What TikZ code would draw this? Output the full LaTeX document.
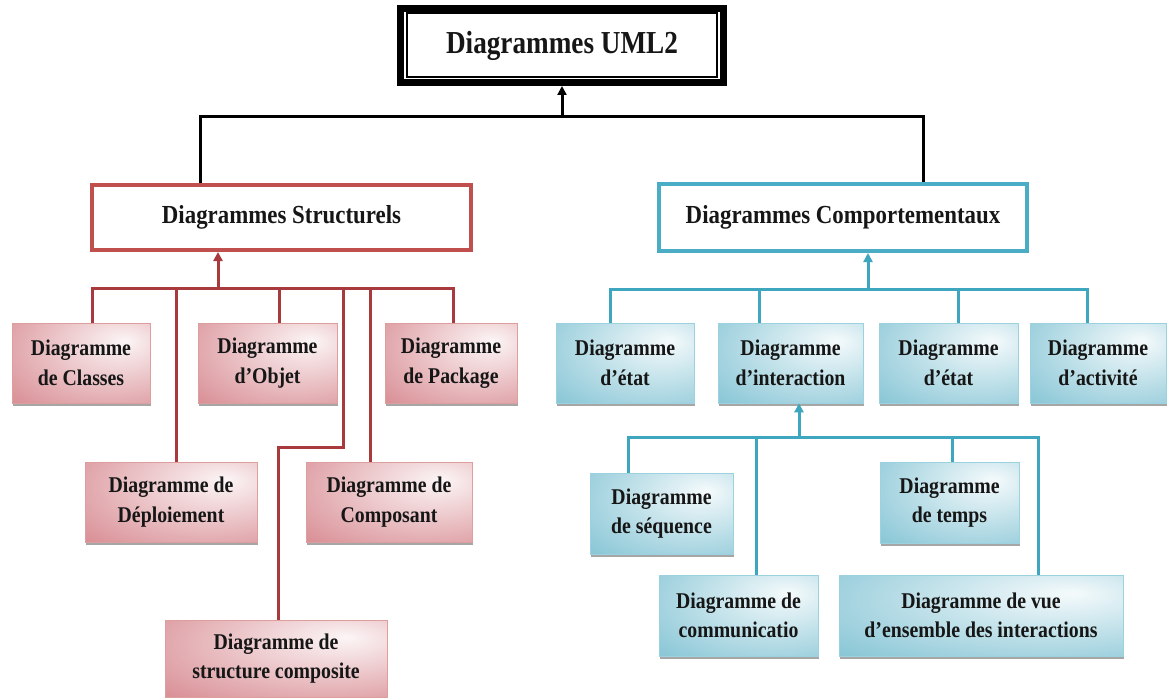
\documentclass[tikz,border=0pt]{standalone}
\usepackage{fontspec}
\setmainfont{Liberation Serif}
\newfontfamily\narrowserif{Liberation Serif}[FakeStretch=0.88]
\usepackage{graphicx}
\usetikzlibrary{arrows.meta,shadows}

% palette
\definecolor{crimsonline}{HTML}{A8393D}
\definecolor{crimsonframe}{HTML}{C0504D}
\definecolor{rosefill}{HTML}{D6878E}
\definecolor{aqualine}{HTML}{3FA6C0}
\definecolor{aquaframe}{HTML}{4BACC6}
\definecolor{aquafill}{HTML}{80C2D3}
\definecolor{inktext}{HTML}{161616}

% soft glow towards the upper right of each leaf box
\pgfdeclareradialshading{roseglow}{\pgfpoint{16bp}{14bp}}{%
  color(0bp)=(white!92!rosefill); color(12bp)=(white!70!rosefill);
  color(50bp)=(rosefill); color(100bp)=(rosefill)}
\pgfdeclareradialshading{aquaglow}{\pgfpoint{16bp}{14bp}}{%
  color(0bp)=(white!92!aquafill); color(12bp)=(white!70!aquafill);
  color(50bp)=(aquafill); color(100bp)=(aquafill)}

\tikzset{
  blackwire/.style={line width=3pt, draw=black},
  crimsonwire/.style={line width=3pt, draw=crimsonline},
  aquawire/.style={line width=3pt, draw=aqualine},
  upto/.style={-{Triangle[length=9pt,width=9pt]}},
  headbox/.style={inner sep=0pt, line width=4pt, fill=white, text=inktext,
    font=\narrowserif\fontsize{26}{30}\selectfont\bfseries},
  leafbox/.style={inner sep=0pt, align=center, text=inktext,
    font=\narrowserif\fontsize{22.5}{29.5}\selectfont\bfseries, line width=0.6pt,
    drop shadow={shadow xshift=1pt, shadow yshift=-2.5pt, opacity=0.35, fill=black}},
  rosebox/.style={leafbox, shading=roseglow, draw=crimsonframe!55!white},
  aquabox/.style={leafbox, shading=aquaglow, draw=aquaframe!55!white},
}

\begin{document}
\begin{tikzpicture}[x=1pt,y=-1pt]
\useasboundingbox (0,0) rectangle (1170,698);
\fill[white] (0,0) rectangle (1170,698);

% ---- root ----
\node[inner sep=0pt, draw=black, line width=7pt, fill=white, text=inktext,
      minimum width=323pt, minimum height=74pt,
      font=\fontsize{32}{36}\selectfont\bfseries] (root) at (562,45.5)
      {\scalebox{0.85}[1]{Diagrammes UML2}};
\draw[line width=2pt] ([shift={(10pt,-8.5pt)}]root.north west)
      rectangle ([shift={(-10pt,8.5pt)}]root.south east);

% ---- the two families ----
\node[headbox, draw=crimsonframe, minimum width=379pt, minimum height=65pt]
      (struct) at (281.5,217.5) {Diagrammes Structurels};
\node[headbox, draw=aquaframe, minimum width=368pt, minimum height=67pt]
      (behav) at (843,217.5) {Diagrammes Comportementaux};

\coordinate (rootbus) at (562,117);
\draw[blackwire] ([xshift=-81.5pt]struct.north) |- (rootbus);
\draw[blackwire] ([xshift=80pt]behav.north) |- (rootbus);
\draw[blackwire, upto] (rootbus) -- (root.south);

% ---- structural diagrams ----
\node[rosebox, minimum width=138pt, minimum height=80pt] (classes) at (81,363) {Diagramme\\de Classes};
\node[rosebox, minimum width=139pt, minimum height=80pt] (objet) at (267.5,363) {Diagramme\\d’Objet};
\node[rosebox, minimum width=132pt, minimum height=80pt] (package) at (451,363) {Diagramme\\de Package};
\node[rosebox, minimum width=172pt, minimum height=80pt] (deploi) at (171,502) {Diagramme de\\Déploiement};
\node[rosebox, minimum width=166pt, minimum height=80pt] (compo) at (389,502) {Diagramme de\\Composant};
\node[rosebox, minimum width=222pt, minimum height=77pt] (compstruct) at (276,658.5) {Diagramme de\\structure composite};

\coordinate (structbus) at (218,288);
\coordinate (structjog) at (343,447);
\draw[crimsonwire, upto] (structbus) -- (structbus |- struct.south);
\draw[crimsonwire] ([xshift=11pt]classes.north) |- (structbus);
\draw[crimsonwire] ([xshift=11.5pt]objet.north) |- (structbus);
\draw[crimsonwire] ([xshift=2pt]package.north) |- (structbus);
\draw[crimsonwire] ([xshift=5pt]deploi.north) |- (structbus);
\draw[crimsonwire] ([xshift=-19pt]compo.north) |- (structbus);
\draw[crimsonwire] ([xshift=2pt]compstruct.north) |- (structjog) |- (structbus);

% ---- behavioural diagrams ----
\node[aquabox, minimum width=138pt, minimum height=80pt] (etatA) at (625,363) {Diagramme\\d’état};
\node[aquabox, minimum width=145pt, minimum height=80pt] (interac) at (790.5,363) {Diagramme\\d’interaction};
\node[aquabox, minimum width=139pt, minimum height=80pt] (etatB) at (948.5,363) {Diagramme\\d’état};
\node[aquabox, minimum width=136pt, minimum height=80pt] (activ) at (1098,363) {Diagramme\\d’activité};

\coordinate (behavbus) at (868,289);
\draw[aquawire, upto] (behavbus) -- (behavbus |- behav.south);
\draw[aquawire] ([xshift=-15pt]etatA.north) |- (behavbus);
\draw[aquawire] ([xshift=-31.5pt]interac.north) |- (behavbus);
\draw[aquawire] ([xshift=9.5pt]etatB.north) |- (behavbus);
\draw[aquawire] ([xshift=-11pt]activ.north) |- (behavbus);

% ---- interaction diagrams ----
\node[aquabox, minimum width=143pt, minimum height=81pt] (sequ) at (661.5,513.5) {Diagramme\\de séquence};
\node[aquabox, minimum width=159pt, minimum height=81pt] (commu) at (738.5,615.5) {Diagramme de\\communicatio};
\node[aquabox, minimum width=139pt, minimum height=81pt] (temps) at (949.5,502.5) {Diagramme\\de temps};
\node[aquabox, minimum width=284pt, minimum height=81pt] (ensemble) at (981,615.5) {Diagramme de vue\\d’ensemble des interactions};

\coordinate (interbus) at (799,437);
\draw[aquawire, upto] (interbus) -- (interbus |- interac.south);
\draw[aquawire] ([xshift=-33.5pt]sequ.north) |- (interbus);
\draw[aquawire] ([xshift=17.5pt]commu.north) |- (interbus);
\draw[aquawire] ([xshift=2.5pt]temps.north) |- (interbus);
\draw[aquawire] ([xshift=57pt]ensemble.north) |- (interbus);
\end{tikzpicture}
\end{document}
